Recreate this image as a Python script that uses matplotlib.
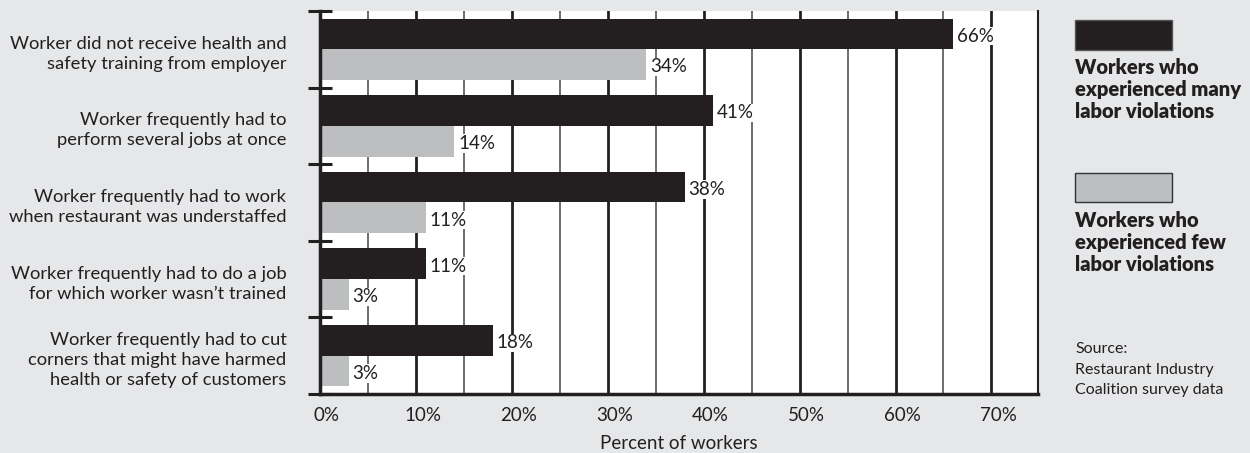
import numpy as np
import matplotlib
matplotlib.use("Agg")
import matplotlib.pyplot as plt
import matplotlib.transforms as mtransforms

plt.rcParams['font.family'] = ['Lato', 'DejaVu Sans']

categories = [
    "Worker did not receive health and\nsafety training from employer",
    "Worker frequently had to\nperform several jobs at once",
    "Worker frequently had to work\nwhen restaurant was understaffed",
    "Worker frequently had to do a job\nfor which worker wasn\u2019t trained",
    "Worker frequently had to cut\ncorners that might have harmed\nhealth or safety of customers",
]
many_violations = [66, 41, 38, 11, 18]
few_violations = [34, 14, 11, 3, 3]
x_ticks = [0, 10, 20, 30, 40, 50, 60, 70]
x_tick_labels = ["0%", "10%", "20%", "30%", "40%", "50%", "60%", "70%"]

BG = "#e6e7e8"
DARK = "#231f20"
LIGHT = "#bcbec0"
TEXT = "#231f20"

fig = plt.figure(figsize=(12.5, 4.53), dpi=100, facecolor=BG)
ax = fig.add_axes([0.256, 0.130, 0.574, 0.846])
ax.set_facecolor("white")

n = len(categories)
centers = np.arange(n) + 0.5
bar_h = 0.40

# grid: heavy lines every 10%, light ones in between
for v in range(5, 75, 5):
    if v % 10 == 0:
        ax.axvline(v, color=DARK, lw=2.0, zorder=1)
    else:
        ax.axvline(v, color="#555555", lw=1.2, zorder=1)

ax.barh(centers - bar_h / 2, many_violations, height=bar_h, color=DARK, zorder=2)
ax.barh(centers + bar_h / 2, few_violations, height=bar_h, color=LIGHT, zorder=2)

for yc, a, b in zip(centers, many_violations, few_violations):
    for val, yy in ((a, yc - bar_h / 2), (b, yc + bar_h / 2)):
        ax.text(val + 0.4, yy + 0.03, f"{val}%", ha="left", va="center", fontsize=13.5,
                color=TEXT, zorder=3,
                bbox=dict(facecolor="white", edgecolor="none", pad=0.6))

ax.set_xlim(0, 74.8)
ax.set_ylim(n, 0)

ax.set_xticks(x_ticks)
ax.set_xticklabels(x_tick_labels, fontsize=13.5, color=TEXT)
ax.tick_params(axis="x", length=0, pad=9)
shift = mtransforms.ScaledTranslation(7 / 100, 0, fig.dpi_scale_trans)
for lbl in ax.get_xticklabels():
    lbl.set_transform(lbl.get_transform() + shift)
ax.set_xlabel("Percent of workers", fontsize=13.5, color=TEXT, labelpad=8)

ax.set_yticks(np.arange(n + 1))
ax.set_yticklabels([])
ax.tick_params(axis="y", direction="inout", length=17, width=2.2, color=DARK)
for yc, lab in zip(centers, categories):
    ax.text(-3.5, yc + 0.06, lab, ha="right", va="center", fontsize=13.2,
            color=TEXT, linespacing=1.3)

ax.spines["top"].set_visible(False)
ax.spines["left"].set_linewidth(2.5)
ax.spines["left"].set_color(DARK)
ax.spines["bottom"].set_linewidth(2.5)
ax.spines["bottom"].set_color(DARK)
ax.spines["right"].set_linewidth(1.5)
ax.spines["right"].set_color(DARK)

# legend on the right
fig.patches.append(plt.Rectangle((1075 / 1250, 1 - 50 / 453), 97 / 1250, 30 / 453,
                                 transform=fig.transFigure, facecolor=DARK,
                                 edgecolor="#555555", lw=1))
fig.patches.append(plt.Rectangle((1075 / 1250, 1 - 202 / 453), 97 / 1250, 29 / 453,
                                 transform=fig.transFigure, facecolor=LIGHT,
                                 edgecolor="#333333", lw=1))
fig.text(1075 / 1250, 1 - 58 / 453, "Workers who\nexperienced many\nlabor violations",
         ha="left", va="top", fontsize=14.5, fontweight="heavy", color=TEXT, linespacing=1.2)
fig.text(1075 / 1250, 1 - 211 / 453, "Workers who\nexperienced few\nlabor violations",
         ha="left", va="top", fontsize=14.5, fontweight="heavy", color=TEXT, linespacing=1.2)
fig.text(1075 / 1250, 1 - 342 / 453, "Source:\nRestaurant Industry\nCoalition survey data",
         ha="left", va="top", fontsize=11.5, color=TEXT, linespacing=1.6)

fig.savefig("out.png", dpi=100, facecolor=BG)
